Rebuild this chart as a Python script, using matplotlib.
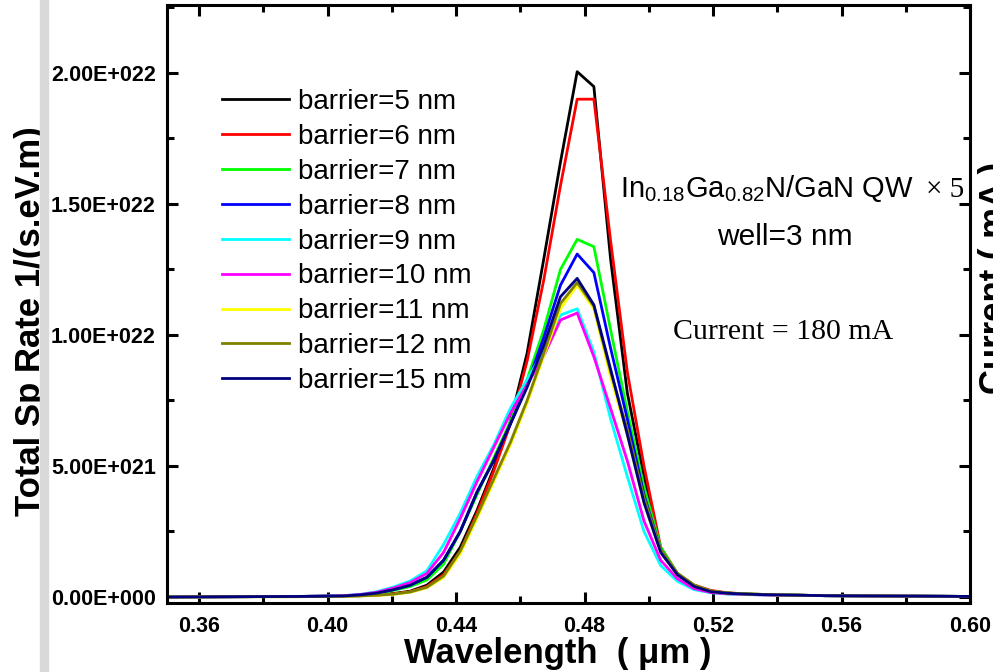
#!/usr/bin/env python3
import numpy as np
import matplotlib as mpl
mpl.use("Agg")
import matplotlib.pyplot as plt
import matplotlib.ticker as ticker
from matplotlib.patches import Rectangle

mpl.rcParams.update({
    "font.family": ["Liberation Sans", "DejaVu Sans"],
    "mathtext.fontset": "custom",
    "mathtext.rm": "Liberation Sans",
    "mathtext.it": "Liberation Sans:italic",
    "mathtext.bf": "Liberation Sans:bold",
})

# Data (spectra in units of 1e22 1/(s.eV.m))
WAVELENGTH = [0.350, 0.370, 0.390, 0.400, 0.4049,
              0.4101, 0.4153, 0.4205, 0.4257, 0.4309, 0.4361, 0.4413, 0.4465, 0.4517,
              0.4569, 0.4621, 0.4673, 0.4725, 0.4777, 0.4829, 0.4881, 0.4933, 0.4985,
              0.5037, 0.5089, 0.5141, 0.5193, 0.5245, 0.5297, 0.5349, 0.5401, 0.5453,
              0.555, 0.570, 0.585, 0.600]

B5 = [0.000, 0.001, 0.002, 0.003, 0.004,
      0.005, 0.008, 0.013, 0.022, 0.045, 0.095, 0.190, 0.330, 0.490,
      0.670, 0.930, 1.290, 1.660, 2.005, 1.948, 1.290, 0.780, 0.460,
      0.180, 0.085, 0.042, 0.022, 0.015, 0.011, 0.009, 0.008, 0.007,
      0.005, 0.004, 0.003, 0.002]
B6 = [0.000, 0.001, 0.002, 0.003, 0.004,
      0.005, 0.007, 0.012, 0.020, 0.040, 0.085, 0.175, 0.320, 0.480,
      0.660, 0.900, 1.210, 1.570, 1.900, 1.900, 1.360, 0.860, 0.500,
      0.190, 0.090, 0.046, 0.025, 0.016, 0.012, 0.010, 0.008, 0.007,
      0.005, 0.004, 0.003, 0.002]
B7 = [0.000, 0.001, 0.002, 0.003, 0.004,
      0.007, 0.013, 0.025, 0.040, 0.065, 0.125, 0.250, 0.390, 0.530,
      0.670, 0.830, 1.020, 1.250, 1.365, 1.337, 1.020, 0.710, 0.420,
      0.190, 0.090, 0.045, 0.022, 0.015, 0.012, 0.010, 0.008, 0.007,
      0.005, 0.004, 0.003, 0.002]
B8 = [0.000, 0.001, 0.002, 0.003, 0.004,
      0.008, 0.015, 0.028, 0.045, 0.075, 0.140, 0.250, 0.400, 0.520,
      0.660, 0.810, 0.990, 1.190, 1.309, 1.238, 0.950, 0.680, 0.390,
      0.180, 0.085, 0.040, 0.020, 0.014, 0.011, 0.009, 0.008, 0.007,
      0.005, 0.004, 0.003, 0.002]
B9 = [0.000, 0.001, 0.002, 0.003, 0.005,
      0.010, 0.020, 0.038, 0.061, 0.100, 0.200, 0.320, 0.460, 0.580,
      0.720, 0.830, 0.940, 1.076, 1.100, 0.935, 0.680, 0.460, 0.250,
      0.120, 0.060, 0.028, 0.016, 0.011, 0.009, 0.008, 0.007, 0.006,
      0.005, 0.004, 0.003, 0.002]
B10 = [0.000, 0.001, 0.002, 0.003, 0.005,
       0.009, 0.018, 0.034, 0.055, 0.090, 0.170, 0.300, 0.440, 0.570,
       0.700, 0.810, 0.920, 1.057, 1.084, 0.917, 0.720, 0.520, 0.290,
       0.140, 0.070, 0.032, 0.017, 0.012, 0.010, 0.008, 0.007, 0.006,
       0.005, 0.004, 0.003, 0.002]
B11 = [0.000, 0.001, 0.001, 0.002, 0.003,
       0.004, 0.006, 0.010, 0.018, 0.035, 0.075, 0.165, 0.300, 0.440,
       0.580, 0.740, 0.920, 1.100, 1.190, 1.100, 0.840, 0.620, 0.360,
       0.170, 0.085, 0.042, 0.021, 0.014, 0.011, 0.009, 0.008, 0.007,
       0.005, 0.004, 0.003, 0.002]
B12 = [0.000, 0.001, 0.001, 0.002, 0.003,
       0.004, 0.007, 0.011, 0.019, 0.037, 0.080, 0.175, 0.310, 0.450,
       0.590, 0.750, 0.930, 1.120, 1.200, 1.110, 0.860, 0.640, 0.380,
       0.180, 0.090, 0.045, 0.022, 0.015, 0.012, 0.010, 0.008, 0.007,
       0.005, 0.004, 0.003, 0.002]
B15 = [0.000, 0.001, 0.002, 0.003, 0.004,
       0.008, 0.015, 0.028, 0.045, 0.075, 0.140, 0.250, 0.400, 0.520,
       0.660, 0.800, 0.960, 1.146, 1.216, 1.115, 0.870, 0.620, 0.360,
       0.170, 0.085, 0.040, 0.020, 0.014, 0.011, 0.009, 0.008, 0.007,
       0.005, 0.004, 0.003, 0.002]

SERIES = [
    ("barrier=5 nm",  B5,  "#000000"),
    ("barrier=6 nm",  B6,  "#ff0000"),
    ("barrier=7 nm",  B7,  "#00ff00"),
    ("barrier=8 nm",  B8,  "#0000ff"),
    ("barrier=9 nm",  B9,  "#00ffff"),
    ("barrier=10 nm", B10, "#ff00ff"),
    ("barrier=11 nm", B11, "#ffff00"),
    ("barrier=12 nm", B12, "#808000"),
    ("barrier=15 nm", B15, "#000080"),
]

W, H = 993, 672


def sci_fmt(v, _):
    if abs(v) < 1e10:
        return "0.00E+000"
    e = int(np.floor(np.log10(abs(v))))
    return f"{v / 10**e:.2f}E+{e:03d}"


def main() -> None:
    fig = plt.figure(figsize=(W / 100, H / 100), dpi=100)
    fig.patches.append(Rectangle((40 / W, 0), 8 / W, 1, transform=fig.transFigure,
                                 color="#d9d9d9", zorder=0))
    ax = fig.add_axes([167 / W, 69 / H, 803 / W, 598 / H])

    wl = np.array(WAVELENGTH)
    for label, vals, col in SERIES:
        ax.plot(wl, np.array(vals) * 1e22, "-", lw=2.0, color=col, label=label)

    ax.set_xlim(0.35, 0.60)
    ax.set_ylim(-0.023e22, 2.2595e22)

    ax.xaxis.set_major_locator(ticker.MultipleLocator(0.04))
    ax.xaxis.set_minor_locator(ticker.MultipleLocator(0.02))
    ax.xaxis.set_major_formatter(ticker.FormatStrFormatter("%.2f"))
    ax.yaxis.set_major_locator(ticker.MultipleLocator(5e21))
    ax.yaxis.set_minor_locator(ticker.MultipleLocator(2.5e21))
    ax.yaxis.set_major_formatter(ticker.FuncFormatter(sci_fmt))
    ax.yaxis.get_offset_text().set_visible(False)

    for s in ax.spines.values():
        s.set_linewidth(2.2)
    ax.tick_params(which="both", direction="in", top=True, right=True, width=2.2)
    ax.tick_params(which="major", length=8)
    ax.tick_params(which="minor", length=5)
    ax.tick_params(axis="y", pad=8, labelsize=15.5)
    ax.tick_params(axis="x", pad=9, labelsize=15.5)
    for t in ax.get_xticklabels() + ax.get_yticklabels():
        t.set_fontweight("bold")

    ax.set_xlabel("Wavelength  ( \u03bcm )", fontsize=25, fontweight="bold")
    ax.xaxis.set_label_coords(0.487, -0.057)
    ax.set_ylabel("Total Sp Rate 1/(s.eV.m)", fontsize=25, fontweight="bold")
    ax.yaxis.set_label_coords(-0.149, 0.4716)

    ax.legend(loc="upper left", bbox_to_anchor=(222 / W, 1 - 89 / H),
              bbox_transform=fig.transFigure, frameon=False, fontsize=20,
              handlelength=2.4, handletextpad=0.33, labelspacing=0.32,
              borderpad=0, borderaxespad=0)

    fig.text(620 / W, 1 - 197 / H, "In$_{0.18}$Ga$_{0.82}$N/GaN QW",
             fontsize=21, ha="left", va="baseline")
    fig.text(926 / W, 1 - 197 / H, "\u00d7 5", fontsize=21, ha="left", va="baseline",
             family=["Liberation Serif", "DejaVu Serif"])
    fig.text(785 / W, 1 - 245 / H, "well=3 nm", fontsize=21.5, ha="center", va="baseline")
    fig.text(673 / W, 1 - 339 / H, "Current = 180 mA", fontsize=21.5, ha="left",
             va="baseline", family=["Liberation Serif", "DejaVu Serif"])
    fig.text(978 / W, 1 - 278 / H, "Current ( mA )", fontsize=25, fontweight="bold",
             rotation=90, ha="left", va="center")

    fig.savefig("out.png", dpi=100)


if __name__ == "__main__":
    main()
